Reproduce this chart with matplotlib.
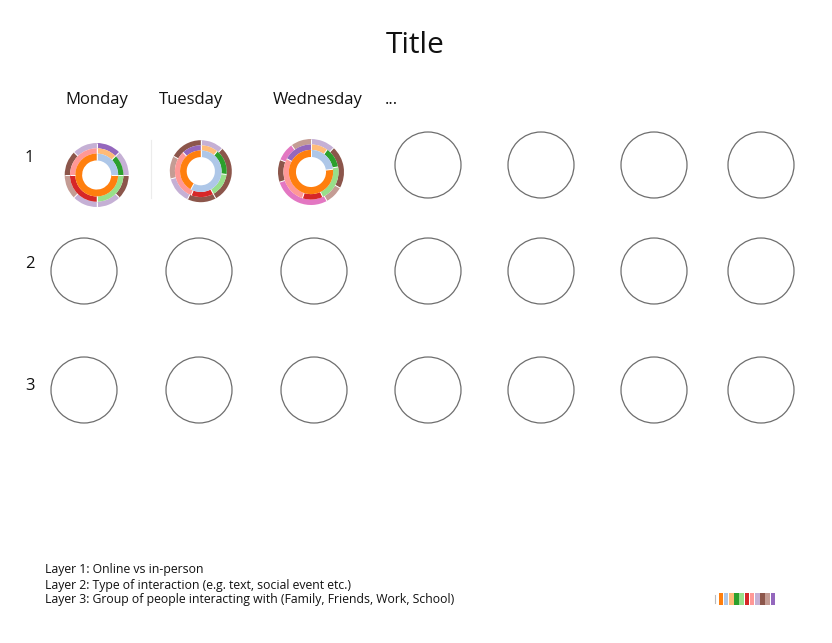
import matplotlib
matplotlib.use("Agg")
import matplotlib.pyplot as plt
import numpy as np
from matplotlib.patches import Circle

plt.rcParams['font.family'] = ['Open Sans', 'DejaVu Sans']

# ---------------- data ----------------
title = "Title"
day_labels = ["Monday", "Tuesday", "Wednesday", "..."]
row_labels = ["1", "2", "3"]
notes = [
    "Layer 1: Online vs in-person",
    "Layer 2: Type of interaction (e.g. text, social event etc.)",
    "Layer 3: Group of people interacting with (Family, Friends, Work, School)",
]

tab = plt.get_cmap('tab20').colors
palette = {
    'blue_l': tab[1], 'orange': tab[2], 'orange_l': tab[3], 'green': tab[4],
    'green_l': tab[5], 'red': tab[6], 'red_l': tab[7], 'purple': tab[8],
    'purple_l': tab[9], 'brown': tab[10], 'brown_l': tab[11], 'pink': tab[12],
}

# Monday
mon_inner = [25, 75]
mon_inner_c = ['blue_l', 'orange']
mon_middle = [12.5, 12.5, 25, 25, 25]
mon_middle_c = ['orange_l', 'green', 'green_l', 'red', 'red_l']
mon_outer = [12.5, 12.5, 12.5, 12.5, 12.5, 12.5, 12.5, 12.5]
mon_outer_c = ['purple', 'purple_l', 'brown', 'purple_l', 'purple_l', 'brown_l', 'brown', 'purple_l']

# Tuesday
tue_inner = [58, 42]
tue_inner_c = ['blue_l', 'orange']
tue_middle = [11, 16, 15, 14, 32, 12]
tue_middle_c = ['orange_l', 'green', 'green_l', 'red', 'red_l', 'purple']
tue_outer = [12, 30, 15, 14, 12, 17]
tue_outer_c = ['purple_l', 'brown', 'brown', 'purple_l', 'brown_l', 'brown']

# Wednesday
wed_inner = [23, 77]
wed_inner_c = ['blue_l', 'orange']
wed_middle = [10, 12, 21, 12, 28, 17]
wed_middle_c = ['orange_l', 'green', 'green_l', 'red', 'red_l', 'purple']
wed_outer = [12, 21, 9, 28, 11, 9, 10]
wed_outer_c = ['purple_l', 'brown', 'brown_l', 'pink', 'brown', 'pink', 'brown_l']

legend_colors = ['orange', 'blue_l', 'orange_l', 'green', 'green_l', 'red',
                 'red_l', 'purple_l', 'brown', 'brown_l', 'purple']

# ---------------- layout ----------------
W, H = 832, 643
fig = plt.figure(figsize=(W / 100, H / 100), dpi=100)
ax = fig.add_axes([0, 0, 1, 1])

col_x = [84, 199, 314, 428, 541, 654, 761]
row_y = [165, 271, 390]
circ_r = 33

# empty placeholder circles (row 1 first three replaced by donuts)
for ri, cy in enumerate(row_y):
    for ci, cx in enumerate(col_x):
        if ri == 0 and ci < 3:
            continue
        ax.add_patch(Circle((cx, H - cy), circ_r, facecolor='none',
                            edgecolor='#6e6e6e', linewidth=0.9))

donuts = [
    ((96.7, 175.0), 32.0, (mon_inner, mon_inner_c), (mon_middle, mon_middle_c), (mon_outer, mon_outer_c)),
    ((200.8, 171.2), 31.0, (tue_inner, tue_inner_c), (tue_middle, tue_middle_c), (tue_outer, tue_outer_c)),
    ((311.0, 172.0), 33.0, (wed_inner, wed_inner_c), (wed_middle, wed_middle_c), (wed_outer, wed_outer_c)),
]

# ring radii as fractions of donut radius: (outer radius, width)
ring_geom = [(1.0, 0.165), (0.835, 0.165), (0.67, 0.215)]

for (cx, cy), R, inner, middle, outer in donuts:
    center = (cx, H - cy)
    for (vals, cols), (rf, wf) in zip([outer, middle, inner], ring_geom):
        ax.pie(vals, radius=rf * R, center=center, startangle=90, counterclock=False,
               colors=[palette[c] for c in cols],
               wedgeprops=dict(width=wf * R, linewidth=0.3, edgecolor=None))
        # thin white radial separators between segments
        v = np.asarray(vals, dtype=float)
        bounds = np.deg2rad(90 - 360 * np.cumsum(np.r_[0, v[:-1]]) / v.sum())
        r_out, r_in = rf * R, (rf - wf) * R
        for a in bounds:
            ax.plot([center[0] + r_in * np.cos(a), center[0] + r_out * np.cos(a)],
                    [center[1] + r_in * np.sin(a), center[1] + r_out * np.sin(a)],
                    color='white', linewidth=0.7, solid_capstyle='butt')

# faint separator
ax.plot([151, 151], [H - 140, H - 198], color='#ececec', linewidth=0.8)

# texts
ax.text(415, H - 53, title, fontsize=21.5, ha='center', va='baseline', color='#111111')
day_x = [97, 191.3, 317.5, 391.7]
for x, lab in zip(day_x, day_labels):
    ax.text(x, H - 103.5, lab, fontsize=12.0, ha='center', va='baseline', color='#111111')
row_lab_y = [158.5, 263.5, 385.5]
for y, lab in zip(row_lab_y, row_labels):
    ax.text(29.5, H - y, lab, fontsize=12.0, ha='center', va='center', color='#111111')

note_y = [573.5, 588.5, 603.5]
for y, t in zip(note_y, notes):
    ax.text(45, H - y, t, fontsize=8.8, ha='left', va='baseline', color='#111111')

# tiny colour legend bottom-right
lx0, lw_, ly0, lh = 718.5, 5.2, 593, 11.5
xs = lx0 + lw_ * np.arange(len(legend_colors))
ax.bar(xs, [lh] * len(legend_colors), width=lw_ * 0.92, bottom=H - ly0 - lh, align='edge',
       color=[palette[c] for c in legend_colors], linewidth=0)
ax.plot([714.5, 714.5], [H - 595, H - 603], color='#bbbbbb', linewidth=0.8)

ax.set_xlim(0, W)
ax.set_ylim(0, H)
ax.set_aspect('equal')
ax.axis('off')

fig.savefig('out.png', dpi=100, facecolor='white')
